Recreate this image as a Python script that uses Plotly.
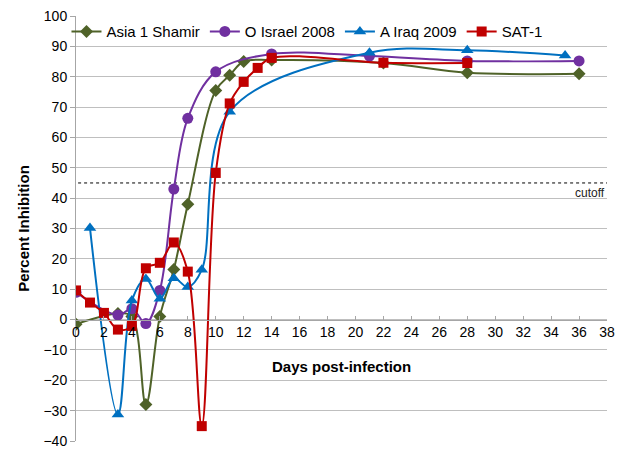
import plotly.graph_objects as go

asia_days = [0, 3, 4, 5, 6, 7, 8, 10, 11, 12, 14, 22, 28, 36]
asia_vals = [-1.5, 2, 1, -28, 1, 16.5, 38, 75.5, 80.5, 85, 85.5, 84.5, 81.3, 81]

israel_days = [0, 3, 4, 5, 6, 7, 8, 10, 14, 21, 28, 36]
israel_vals = [9, 1.5, 3.6, -1.3, 9.6, 43, 66.3, 81.6, 87.5, 86.8, 85.2, 85.2]

iraq_days = [1, 3, 4, 5, 6, 7, 8, 9, 11, 21, 28, 35]
iraq_vals = [30.2, -31.3, 6.3, 13.4, 6.9, 13.6, 10.7, 16.4, 68.5, 87.9, 88.7, 87.0]

sat_days = [0, 1, 2, 3, 4, 5, 6, 7, 8, 9, 10, 11, 12, 13, 14, 22, 28]
sat_vals = [9.6, 5.6, 2.2, -3.3, -2.1, 16.9, 18.7, 25.4, 15.8, -35.1, 48.3, 71.2, 78.3, 82.9, 86.2, 84.6, 84.5]

cutoff = 45
x_ticks = list(range(0, 40, 2))
y_ticks = list(range(-40, 110, 10))

FONT = "Liberation Sans, Arial, sans-serif"

fig = go.Figure()

series = [
    ("Asia 1 Shamir", asia_days, asia_vals, "#4F6228", "diamond", 10),
    ("O Israel 2008", israel_days, israel_vals, "#7030A0", "circle", 11),
    ("A Iraq 2009", iraq_days, iraq_vals, "#0070C0", "triangle-up", 11),
    ("SAT-1", sat_days, sat_vals, "#C00000", "square", 10),
]

fig.add_trace(go.Scatter(
    x=[0.15, 38], y=[cutoff, cutoff], mode="lines",
    line=dict(color="black", width=1, dash="dot"), showlegend=False, hoverinfo="skip"))

for name, xs, ys, col, sym, sz in series:
    fig.add_trace(go.Scatter(
        x=xs, y=ys, name=name, mode="lines+markers",
        line=dict(color=col, width=2, shape="spline", smoothing=1),
        marker=dict(symbol=sym, size=sz, color=col),
    ))

fig.add_annotation(x=38, y=cutoff, xref="x", yref="y", text="cutoff",
                   showarrow=False, xanchor="right", yanchor="top", yshift=-1,
                   font=dict(family=FONT, size=12, color="#222"))
fig.add_annotation(x=0.5, y=-15.5, xref="paper", yref="y", text="<b>Days post-infection</b>",
                   showarrow=False, font=dict(family=FONT, size=15, color="black"))

fig.update_layout(
    width=627, height=449,
    margin=dict(l=76, r=20, t=16, b=8),
    paper_bgcolor="white", plot_bgcolor="white",
    font=dict(family=FONT, size=13, color="black"),
    legend=dict(orientation="h", x=0.435, xanchor="center", y=0.963, yanchor="middle",
                bgcolor="rgba(0,0,0,0)", font=dict(family=FONT, size=15),
                itemwidth=30, tracegroupgap=0),
    showlegend=True,
)
fig.update_xaxes(range=[0, 38], tickvals=x_ticks, showgrid=False, zeroline=False,
                 showline=True, linecolor="#A6A6A6", linewidth=1, automargin=False,
                 anchor="free", position=40/140, ticks="inside", ticklen=4,
                 tickcolor="#A6A6A6", tickfont=dict(family=FONT, size=14))
fig.update_yaxes(range=[-40, 100], tickvals=y_ticks, showgrid=True, gridcolor="#BFBFBF",
                 gridwidth=1.3, zeroline=False, showline=True, linecolor="#A6A6A6",
                 ticks="outside", ticklen=5, tickcolor="#A6A6A6", automargin=False,
                 ticklabeloverflow="allow",
                 tickfont=dict(family=FONT, size=14),
                 title=dict(text="<b>Percent Inhibition</b>", font=dict(family=FONT, size=15), standoff=10))

fig.write_html("out.html", config={"displayModeBar": False},
               post_script="document.body.style.margin='0';")
